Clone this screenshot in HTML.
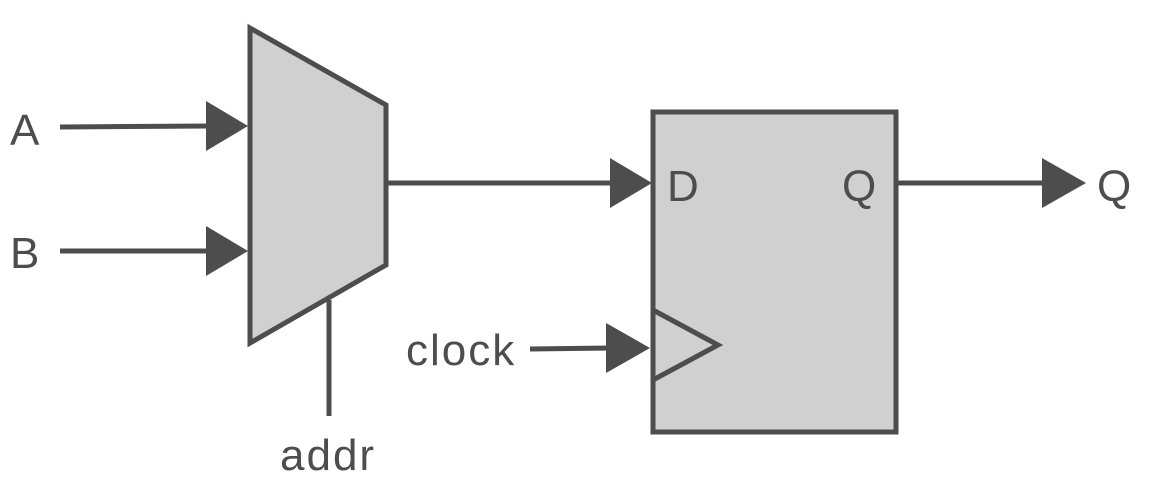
<!DOCTYPE html>
<html><head><meta charset="utf-8"><style>
html,body{margin:0;padding:0;background:#fff;width:1153px;height:495px;overflow:hidden}
svg text{font-family:"Liberation Sans","DejaVu Sans",sans-serif;fill:#4d4d4d;font-size:44px;letter-spacing:2px}
</style></head><body>
<svg width="1153" height="495" viewBox="0 0 1153 495" xmlns="http://www.w3.org/2000/svg">
<g stroke="#4d4d4d" stroke-width="5" fill="#d0d0d0">
<polygon points="250,28 386,105 386,265 250,343"/>
<rect x="653" y="112" width="243" height="320"/>
<polyline points="653,310 718,345 653,380" fill="none"/>
<line x1="329" y1="300" x2="329" y2="416"/>
<line x1="60" y1="127" x2="210" y2="126"/>
<line x1="60" y1="251" x2="210" y2="251"/>
<line x1="386" y1="183" x2="612" y2="183"/>
<line x1="530" y1="349" x2="610" y2="348"/>
<line x1="896" y1="183" x2="1044" y2="183"/>
</g>
<g fill="#4d4d4d">
<polygon points="206,101 248,126 206,151"/>
<polygon points="206,226 248,251 206,276"/>
<polygon points="610,158 652,183 610,208"/>
<polygon points="606,323 650,348 606,373"/>
<polygon points="1042,158 1086,183 1042,208"/>
</g>
<text x="10" y="145">A</text>
<text x="10" y="268">B</text>
<text x="406" y="365">clock</text>
<text x="280" y="470">addr</text>
<text x="667" y="201">D</text>
<text x="842" y="201">Q</text>
<text x="1097" y="201">Q</text>
</svg>
</body></html>
